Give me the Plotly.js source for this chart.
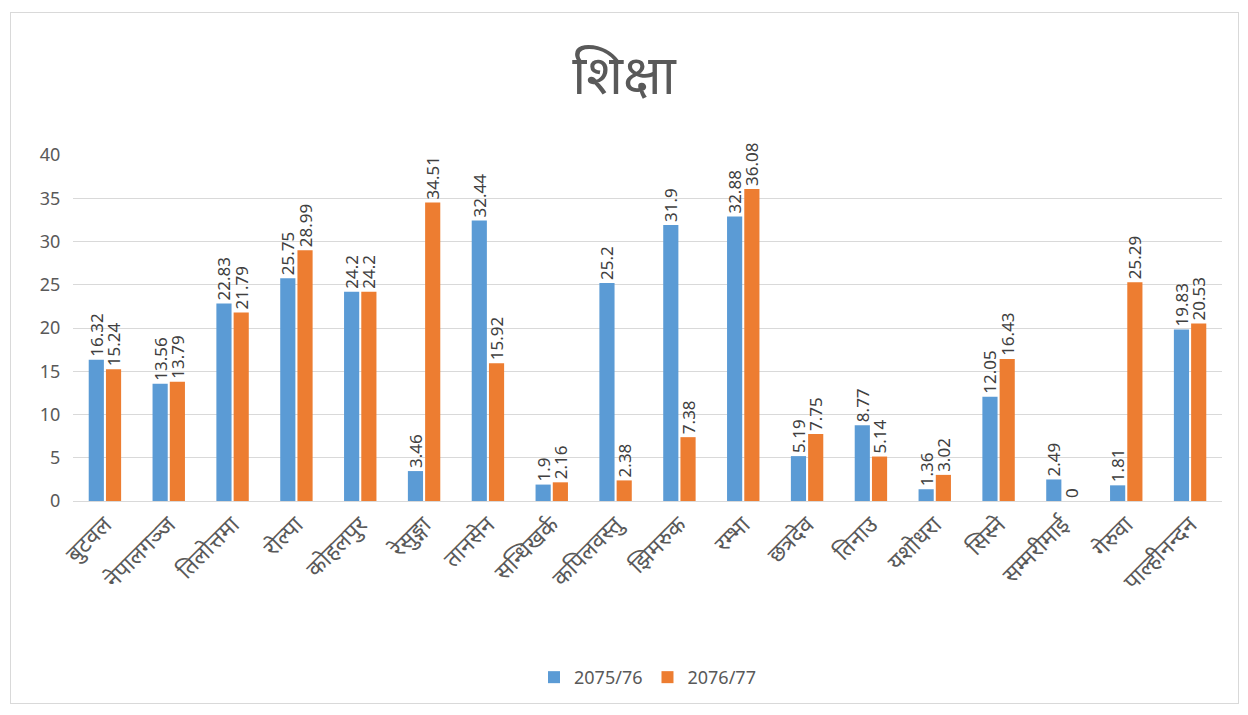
<!DOCTYPE html>
<html><head><meta charset="utf-8">
<script src="https://cdn.plot.ly/plotly-3.0.1.min.js"></script>
<style>body{margin:0;background:#fff}#frame{position:absolute;left:10px;top:12px;width:1227px;height:690px;border:1px solid #d9d9d9;pointer-events:none}</style>
</head><body>
<div id="chart" style="width:1248px;height:715px;"></div>
<div id="frame"></div>
<script>
const categories = ["बुटवल","नेपालगञ्ज","तिलोत्तमा","रोल्पा","कोहलपुर","रेसुङ्गा","तानसेन","सन्धिखर्क","कपिलवस्तु","झिमरुक","रम्भा","छत्रदेव","तिनाउ","यशोधरा","सिस्ने","सम्मरीमाई","गेरुवा","पाल्हीनन्दन"];
const series1Name = "2075/76";
const series2Name = "2076/77";
const series1 = [16.32,13.56,22.83,25.75,24.2,3.46,32.44,1.9,25.2,31.9,32.88,5.19,8.77,1.36,12.05,2.49,1.81,19.83];
const series2 = [15.24,13.79,21.79,28.99,24.2,34.51,15.92,2.16,2.38,7.38,36.08,7.75,5.14,3.02,16.43,0,25.29,20.53];
const yTicks = [0,5,10,15,20,25,30,35,40];

const fontFam = '"Noto Sans", "Noto Sans Devanagari", "DejaVu Sans", sans-serif';
function mk(name, vals, color){
  return {type:'bar', name:name, x:categories, y:vals, marker:{color:color},
    text: vals.map(String), textposition:'outside', textangle:-90, cliponaxis:false,
    textfont:{size:17, color:'#404040', family:fontFam}, hoverinfo:'x+y'};
}
const data = [mk(series1Name, series1, '#5B9BD5'), mk(series2Name, series2, '#ED7D31')];
const layout = {
  width:1248, height:715,
  margin:{l:73, r:26, t:155, b:214},
  paper_bgcolor:'#fff', plot_bgcolor:'#fff',
  uniformtext:{mode:'show', minsize:17},
  title:{text:'शिक्षा', x:0.5, xanchor:'center', y:0.895, yanchor:'middle', font:{size:54, color:'#595959', family:fontFam}},
  bargap:0.46, bargroupgap:0.12,
  xaxis:{tickangle:-45, tickfont:{size:23, color:'#595959', family:fontFam}, showline:true, linecolor:'#d9d9d9', ticks:'', automargin:false},
  yaxis:{range:[0,40], tickvals:yTicks, tickfont:{size:18, color:'#595959', family:fontFam}, gridcolor:'#d9d9d9', zeroline:false, showline:false, ticks:'outside', ticklen:8, tickcolor:'rgba(0,0,0,0)', automargin:false},
  legend:{orientation:'h', x:0.5, xanchor:'center', y:-0.51, yanchor:'middle', font:{size:18, color:'#595959', family:fontFam}},
  showlegend:true
};
Plotly.newPlot('chart', data, layout, {displayModeBar:false});
</script>
</body></html>
